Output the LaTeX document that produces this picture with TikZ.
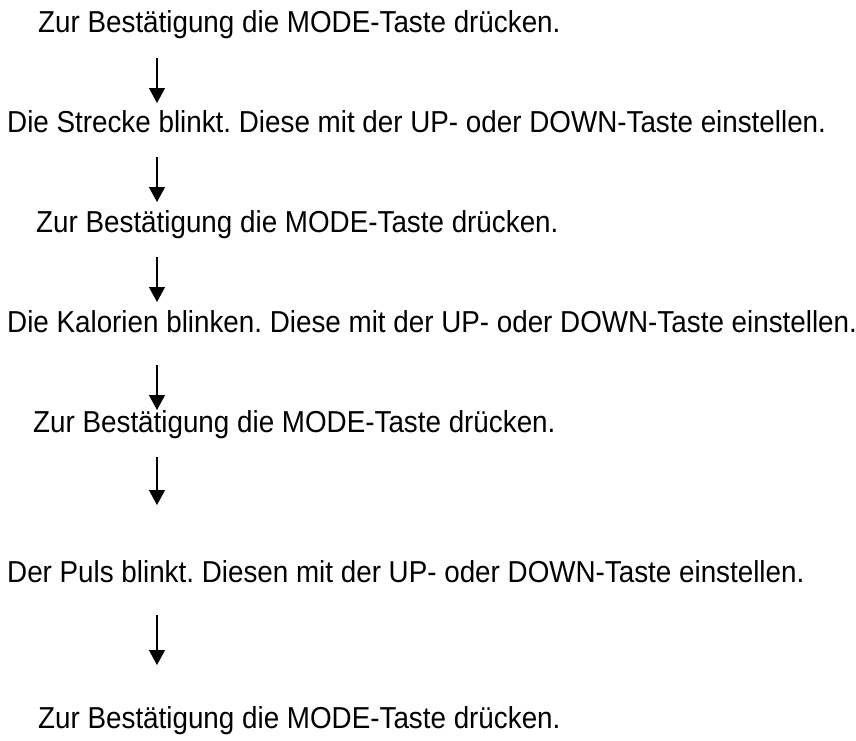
\documentclass[tikz,border=0pt]{standalone}
\usepackage{fontspec}
\setmainfont{Liberation Sans}
\usetikzlibrary{arrows.meta}
\newcommand{\tallt}[1]{\scalebox{1}[1.09]{#1}}
\begin{document}
\frenchspacing
\begin{tikzpicture}[x=1pt,y=1pt,
  txt/.style={anchor=base west,inner sep=0pt,font=\fontsize{27.8}{30}\selectfont},
  arr/.style={line width=1.3pt,-{Triangle[length=15pt,width=16pt]}}]
\useasboundingbox[fill=white] (0,0) rectangle (856,-740);
\node[txt] (t1) at (38,-32) {\tallt{Zur Bestätigung die MODE-Taste drücken.}};
\node[txt] (t2) at (7,-132) {\tallt{Die Strecke blinkt. Diese mit der UP- oder DOWN-Taste einstellen.}};
\node[txt] (t3) at (36,-232) {\tallt{Zur Bestätigung die MODE-Taste drücken.}};
\node[txt] (t4) at (7,-332) {\tallt{Die Kalorien blinken. Diese mit der UP- oder DOWN-Taste einstellen.}};
\node[txt] (t5) at (33,-432) {\tallt{Zur Bestätigung die MODE-Taste drücken.}};
\node[txt] (t6) at (7,-582) {\tallt{Der Puls blinkt. Diesen mit der UP- oder DOWN-Taste einstellen.}};
\node[txt] (t7) at (38,-728) {\tallt{Zur Bestätigung die MODE-Taste drücken.}};
\coordinate (a1s) at (157,-58);  \coordinate (a1e) at (157,-103);
\coordinate (a2s) at (157,-157); \coordinate (a2e) at (157,-202);
\coordinate (a3s) at (157,-257); \coordinate (a3e) at (157,-302);
\coordinate (a4s) at (157,-365); \coordinate (a4e) at (157,-410);
\coordinate (a5s) at (157,-457); \coordinate (a5e) at (157,-505);
\coordinate (a6s) at (157,-615); \coordinate (a6e) at (157,-665);
\draw[arr] (a1s) -- (a1e);
\draw[arr] (a2s) -- (a2e);
\draw[arr] (a3s) -- (a3e);
\draw[arr] (a4s) -- (a4e);
\draw[arr] (a5s) -- (a5e);
\draw[arr] (a6s) -- (a6e);
\end{tikzpicture}
\end{document}
